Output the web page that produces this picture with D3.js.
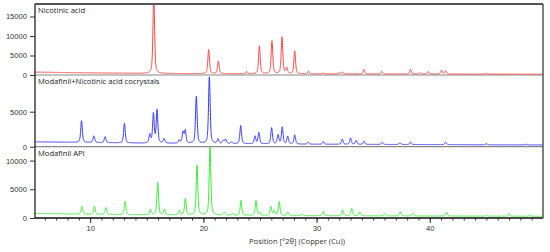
<!DOCTYPE html>
<html>
<head>
<meta charset="utf-8">
<script src="https://cdn.jsdelivr.net/npm/d3@7"></script>
<style>
  body { margin: 0; background: #fff; }
  svg { display: block; font-family: "Open Sans", "Noto Sans", sans-serif; }
  .tick text { fill: #333; }
</style>
</head>
<body>
<div class="canvas"></div>
<script>
// peak positions (2theta) and net heights
const nicotinicPos = [15.62, 20.47, 21.33, 23.83, 24.95, 26.06, 26.95, 27.36, 28.07, 29.27, 30.6, 32.0, 32.3, 34.18, 35.75, 38.3, 39.1, 39.86, 41.04, 41.4, 45.0];
const nicotinicHeight = [20000, 6200, 3200, 550, 7100, 8400, 9400, 1500, 5800, 650, 200, 300, 450, 1150, 650, 1200, 350, 650, 1000, 800, 200];

const cocrystalPos = [9.24, 10.33, 11.32, 13.03, 15.27, 15.59, 15.91, 16.53, 17.86, 18.2, 18.4, 19.38, 20.53, 21.3, 21.77, 21.98, 22.5, 23.3, 24.56, 24.9, 26.03, 26.6, 26.97, 27.45, 28.07, 29.27, 30.6, 32.27, 33.0, 33.5, 34.18, 35.8, 37.36, 38.3, 41.4, 45.0, 48.5];
const cocrystalHeight = [3100, 950, 850, 2800, 1200, 4200, 4700, 650, 450, 1600, 1800, 6700, 9500, 650, 450, 600, 250, 2600, 1100, 1600, 2300, 1300, 2400, 1100, 1300, 300, 400, 750, 900, 550, 450, 300, 250, 350, 350, 150, 100];

const apiPos = [9.27, 10.38, 11.41, 13.09, 15.32, 15.97, 16.56, 17.88, 18.41, 19.44, 20.59, 21.77, 21.9, 22.6, 23.33, 24.65, 25.0, 25.97, 26.27, 26.7, 27.45, 28.7, 30.6, 32.3, 33.1, 33.8, 36.0, 37.4, 38.5, 41.5, 45.0, 47.0, 48.8];
const apiHeight = [1350, 1400, 1200, 2300, 950, 5600, 950, 800, 2900, 8700, 12000, 350, 350, 300, 2600, 2600, 450, 1550, 800, 2400, 600, 250, 750, 1050, 1300, 650, 400, 750, 400, 650, 250, 450, 150];

// background levels
const bgAngles = [5, 10, 15, 20, 30, 40, 50];
const nicotinicBg = [750, 550, 400, 350, 300, 250, 200];
const cocrystalBg = [700, 600, 500, 450, 350, 300, 250];
const apiBg = [800, 650, 550, 500, 400, 350, 300];

// tick labels
const xTicks = [10, 20, 30, 40];
const nicotinicTicks = [0, 5000, 10000, 15000];
const cocrystalTicks = [0, 5000];
const apiTicks = [0, 5000, 10000];

const w = 550;
const h = 252;
const margin = { top: 4, right: 7, bottom: 34, left: 35 };

const svg = d3.select(".canvas").append("svg").attr("width", w).attr("height", h);

const x = d3.scaleLinear().domain([5.13, 50]).range([margin.left, w - margin.right]);

const panels = [
  { name: "Nicotinic acid", pos: nicotinicPos, hgt: nicotinicHeight, bg: nicotinicBg, ticks: nicotinicTicks, max: 18200, top: 4, bottom: 75, color: "#ff4444" },
  { name: "Modafinil+Nicotinic acid cocrystals", pos: cocrystalPos, hgt: cocrystalHeight, bg: cocrystalBg, ticks: cocrystalTicks, max: 10240, top: 75, bottom: 146.7, color: "#3636ff" },
  { name: "Modafinil API", pos: apiPos, hgt: apiHeight, bg: apiBg, ticks: apiTicks, max: 12420, top: 146.7, bottom: 218, color: "#3aea3a" }
];

// peak shape (pseudo-Voigt)
const fwhm = 0.17;
const eta = 0.5;
function profile(dx) {
  const t = (2 * dx) / fwhm;
  return eta / (1 + t * t) + (1 - eta) * Math.exp(-Math.LN2 * t * t);
}

const grid = d3.range(5.13, 50.001, 0.01);

panels.forEach((p, i) => {
  const y = d3.scaleLinear().domain([0, p.max]).range([p.bottom, p.top]);
  const bg = d3.scaleLinear().domain(bgAngles).range(p.bg);

  const pts = grid.map((t) => {
    let v = bg(t);
    p.pos.forEach((c, k) => {
      const dx = t - c;
      if (Math.abs(dx) < 3) v += p.hgt[k] * profile(dx);
    });
    return [t, v];
  });

  svg.append("clipPath")
    .attr("id", "clip" + i)
    .append("rect")
    .attr("x", margin.left)
    .attr("y", p.top)
    .attr("width", w - margin.right - margin.left)
    .attr("height", p.bottom - p.top);

  // zero line of the panel
  svg.append("line")
    .attr("x1", margin.left).attr("x2", w - margin.right)
    .attr("y1", p.bottom).attr("y2", p.bottom)
    .attr("stroke", "#888").attr("stroke-width", 1.2);

  svg.append("path")
    .datum(pts)
    .attr("clip-path", `url(#clip${i})`)
    .attr("fill", "none")
    .attr("stroke", p.color)
    .attr("stroke-width", 1)
    .attr("d", d3.line().x((d) => x(d[0])).y((d) => y(d[1])));

  // y axis
  const yAxis = d3.axisLeft(y).tickValues(p.ticks).tickSize(5).tickPadding(3).tickFormat(d3.format("d"));
  const g = svg.append("g").attr("transform", `translate(${margin.left},0)`).call(yAxis);
  g.select(".domain").remove();
  g.selectAll(".tick line").attr("stroke", "#333");
  g.selectAll(".tick text").attr("font-size", 7.6);

  // panel label
  svg.append("text")
    .attr("x", margin.left + 3)
    .attr("y", p.top + 9)
    .attr("font-size", 7.6)
    .attr("fill", "#222")
    .text(p.name);
});

// x axis, major and minor ticks
const xAxis = d3.axisBottom(x).tickValues(xTicks).tickSize(5).tickPadding(3).tickFormat(d3.format("d"));
const gx = svg.append("g").attr("transform", `translate(0,218)`).call(xAxis);
gx.select(".domain").remove();
gx.selectAll(".tick line").attr("stroke", "#333");
gx.selectAll(".tick text").attr("font-size", 7.6);

const minor = d3.axisBottom(x).tickValues(d3.range(6, 50, 1)).tickSize(2.5).tickFormat("");
const gm = svg.append("g").attr("transform", `translate(0,218)`).call(minor);
gm.select(".domain").remove();
gm.selectAll(".tick line").attr("stroke", "#333");

// frame
svg.append("line").attr("x1", margin.left).attr("x2", w - margin.right).attr("y1", 218).attr("y2", 218).attr("stroke", "#222").attr("stroke-width", 1.3);
svg.append("line").attr("x1", margin.left).attr("x2", margin.left).attr("y1", margin.top).attr("y2", 218).attr("stroke", "#222").attr("stroke-width", 1.3);
svg.append("line").attr("x1", margin.left).attr("x2", w - margin.right).attr("y1", margin.top).attr("y2", margin.top).attr("stroke", "#555").attr("stroke-width", 2);
svg.append("line").attr("x1", w - margin.right).attr("x2", w - margin.right).attr("y1", margin.top).attr("y2", 218).attr("stroke", "#555").attr("stroke-width", 1.5);

// axis title
svg.append("text")
  .attr("x", 297)
  .attr("y", 244)
  .attr("text-anchor", "middle")
  .attr("font-size", 7.6)
  .attr("fill", "#333")
  .text("Position [°2θ] (Copper (Cu))");
</script>
</body>
</html>
